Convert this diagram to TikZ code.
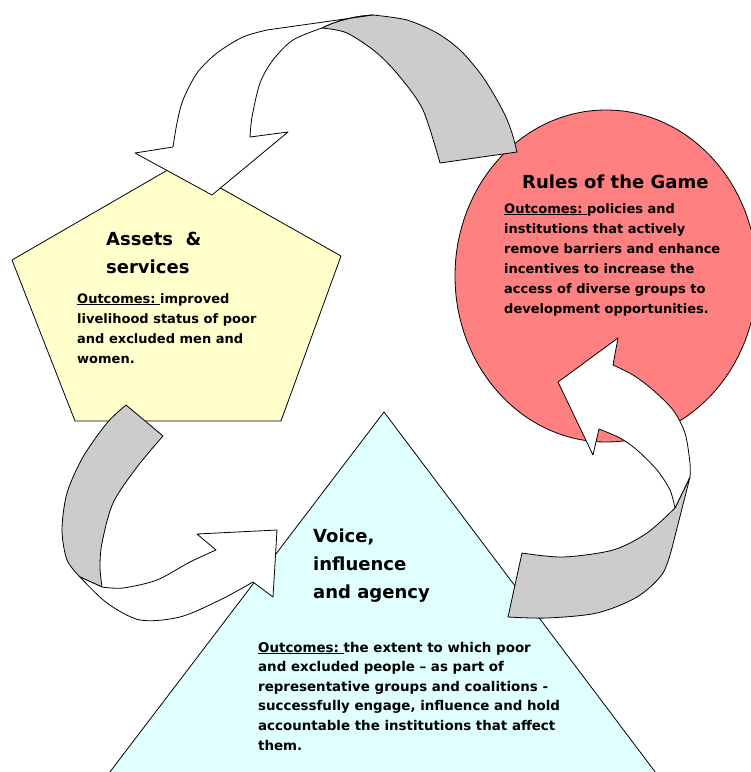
\documentclass[tikz,border=0pt]{standalone}
\usepackage{fontspec}
\setmainfont{DejaVu Sans}
\usetikzlibrary{positioning}
\definecolor{assetsfill}{HTML}{FFFFCC}
\definecolor{rulesfill}{HTML}{FF8080}
\definecolor{voicefill}{HTML}{E0FFFF}
\definecolor{backgray}{HTML}{CCCCCC}
\newcommand{\outc}{\underline{Outcomes:~}}

\begin{document}
\begin{tikzpicture}[x=1pt, y=-1pt,
  forma/.style={draw=black, line width=0.8pt, line join=round},
  frente/.style={forma, fill=white},
  verso/.style={forma, fill=backgray},
  titulo/.style={anchor=base west, inner sep=0pt, align=left, font=\fontsize{18}{28}\selectfont\bfseries},
  texto/.style={anchor=base west, inner sep=0pt, align=left, font=\fontsize{13}{20}\selectfont\bfseries}]
\useasboundingbox (0,0) rectangle (751,772);
% the three areas
\filldraw[forma, fill=assetsfill] (178,164) -- (341,256) -- (281,421) -- (75,421) -- (12,260) -- cycle;
\filldraw[forma, fill=rulesfill] (606,276) ellipse [x radius=151, y radius=166];
\filldraw[forma, fill=voicefill] (384,412) -- (665,785) -- (100,785) -- cycle;
% top arrow: rules -> assets
\filldraw[verso] (373,15) -- plot[smooth] coordinates {(373,15) (407,20) (437,33) (460,50) (480,73) (493,93) (505,115) (512,133) (517,152)}
  -- (440,163) -- plot[smooth] coordinates {(440,163) (423,110) (400,77) (377,53) (347,33) (322,28)}
  .. controls (335,21) and (355,16) .. (373,15) -- cycle;
\filldraw[frente] (173,147) -- plot[smooth] coordinates {(173,147) (177,123) (183,100) (197,73) (217,53) (243,37) (267,30)}
  -- (373,15) .. controls (355,16) and (335,21) .. (322,28)
  -- plot[smooth] coordinates {(322,28) (293,40) (273,60) (260,83) (252,117) (250,137)}
  -- (288,132) -- (212,195) -- (135,153) -- cycle;
% left arrow: assets -> voice
\filldraw[verso] (126,405) -- plot[smooth] coordinates {(126,405) (107,423) (83,457) (67,493) (62,530) (67,560) (80,577)}
  -- (102,587) -- plot[smooth] coordinates {(102,587) (100,567) (102,543) (113,503) (137,467) (163,436)} -- cycle;
\filldraw[frente] (80,577) -- plot[smooth] coordinates {(80,577) (107,603) (140,620) (180,617) (220,600) (253,582)}
  -- (273,597) -- (277,530) -- (197,534) -- (216,550)
  -- plot[smooth] coordinates {(216,550) (190,562) (157,580) (123,588) (102,587)} -- cycle;
% right arrow: voice -> rules
\filldraw[verso] (522,553) -- plot[smooth] coordinates {(522,553) (563,557) (613,550) (647,533) (675,508)}
  -- (690,477) -- (674,540) -- plot[smooth] coordinates {(674,540) (663,573) (637,597) (597,613) (547,618) (508,617)} -- cycle;
\filldraw[frente] (690,477) -- plot[smooth] coordinates {(690,477) (690,463) (685,433) (673,410) (653,390) (633,375) (613,365)}
  -- (618,338) -- (558,382) -- (593,455) -- (599,429)
  -- plot[smooth] coordinates {(599,429) (620,438) (637,450) (657,470) (670,490) (675,508)} -- cycle;
% texts (base = last line)
\node[titulo] (assets) at (106,273) {Assets~~\&\\services};
\node[texto] (assetsout) at (77,363) {\outc improved\\livelihood status of poor\\and excluded men and\\women.};
\node[titulo] (rules) at (522,188) {Rules of the Game};
\node[texto] (rulesout) at (504,313) {\outc policies and\\institutions that actively\\remove barriers and enhance\\incentives to increase the\\access of diverse groups to\\development opportunities.};
\node[titulo] (voice) at (313,598) {Voice,\\influence\\and agency};
\node[texto, font=\fontsize{13.4}{19.6}\selectfont\bfseries] (voiceout) at (258,750) {\outc the extent to which poor\\and excluded people -- as part of\\representative groups and coalitions -\\successfully engage, influence and hold\\accountable the institutions that affect\\them.};
\end{tikzpicture}
\end{document}
